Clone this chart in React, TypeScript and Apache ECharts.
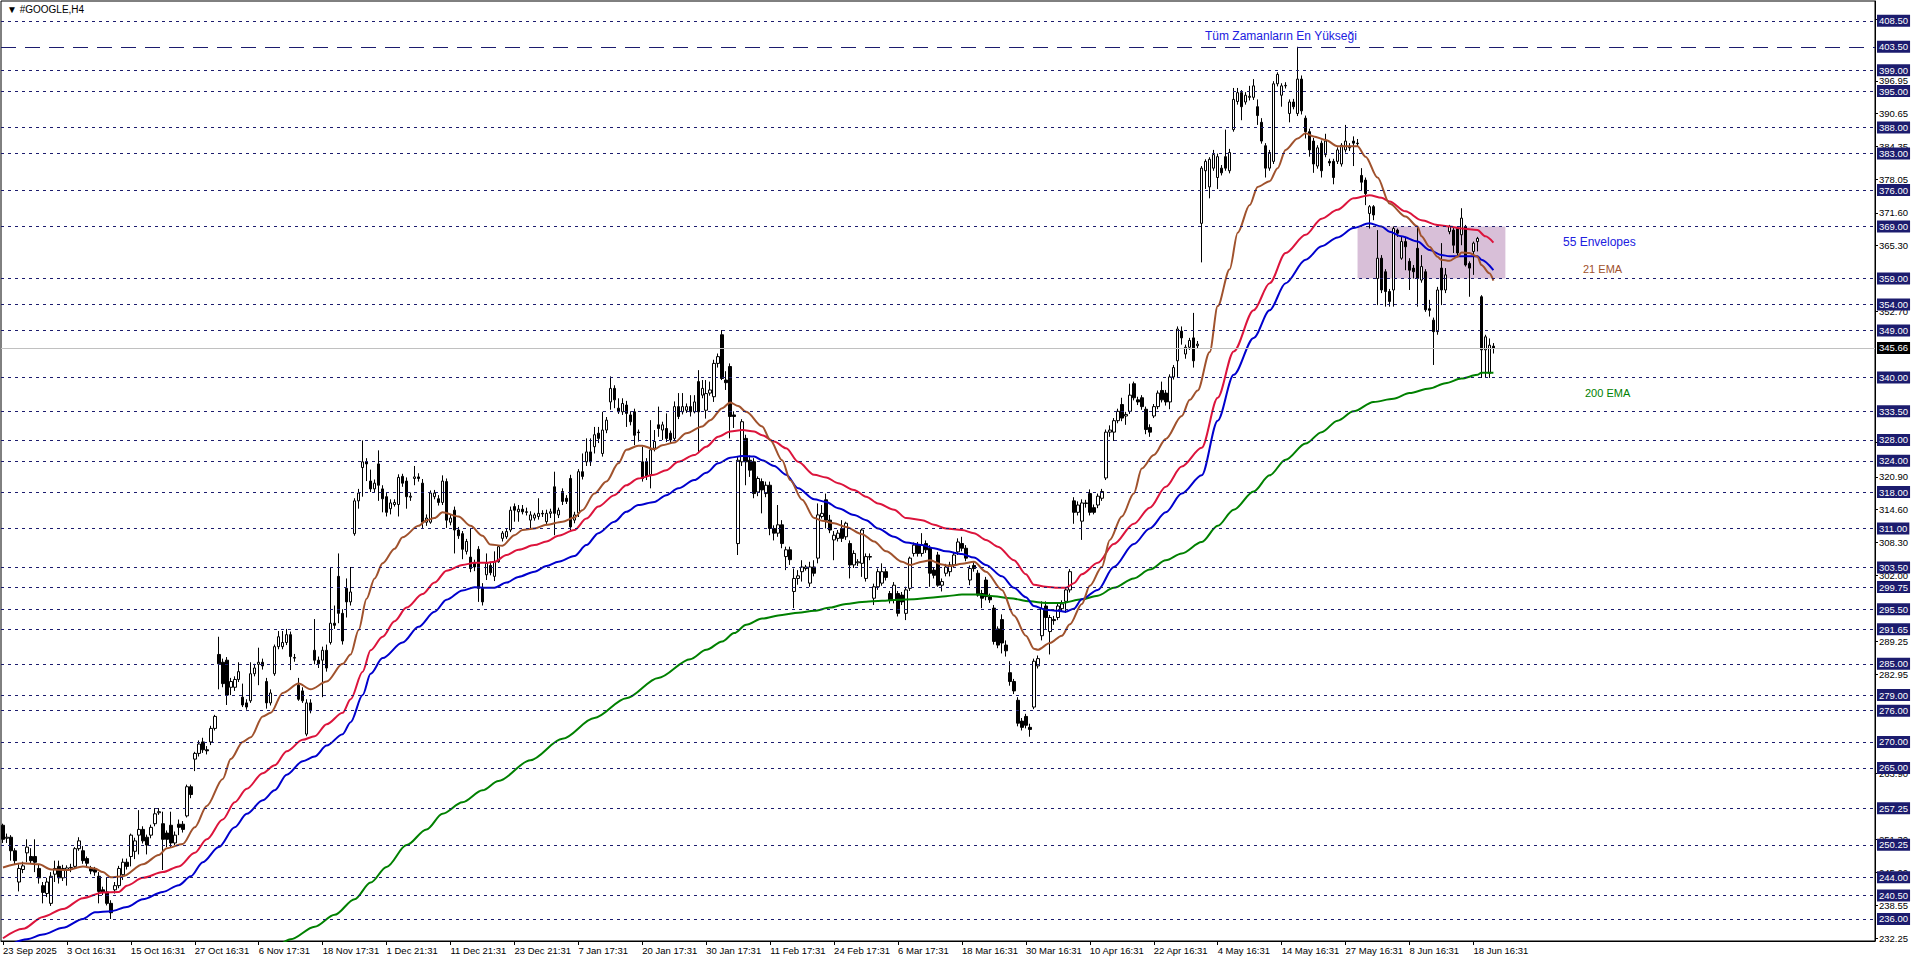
import React, { useEffect, useRef } from 'react';
import * as echarts from 'echarts';

const titleText = '▼ #GOOGLE,H4';
const tickLabels = ['23 Sep 2025', '3 Oct 16:31', '15 Oct 16:31', '27 Oct 16:31', '6 Nov 17:31', '18 Nov 17:31', '1 Dec 21:31', '11 Dec 21:31', '23 Dec 21:31', '7 Jan 17:31', '20 Jan 17:31', '30 Jan 17:31', '11 Feb 17:31', '24 Feb 17:31', '6 Mar 17:31', '18 Mar 16:31', '30 Mar 16:31', '10 Apr 16:31', '22 Apr 16:31', '4 May 16:31', '14 May 16:31', '27 May 16:31', '8 Jun 16:31', '18 Jun 16:31'];
const barsPerLabel = 16;
const totalSlots = 469;

// [open, close, low, high]
const candles: number[][] = [
  [254.0,251.3,250.6,254.3],[251.5,251.7,250.6,252.4],[251.7,249.1,247.2,252.1],[249.1,247.2,246.5,249.6],[243.1,245.7,241.3,246.5],
  [245.5,246.2,244.8,247.0],[248.7,249.8,246.9,251.3],[248.0,247.2,246.6,249.6],[248.0,246.9,245.0,251.3],[245.7,243.9,242.8,246.4],
  [242.4,241.1,239.0,243.1],[240.9,243.1,240.2,243.9],[239.0,244.2,238.5,245.0],[244.6,245.7,243.1,247.2],[246.1,243.9,242.8,247.2],
  [243.9,245.7,243.3,246.4],[245.4,245.8,242.4,246.3],[245.8,245.9,245.0,246.6],[246.1,249.5,245.7,249.8],[249.5,251.0,249.1,251.7],
  [249.1,247.2,246.6,250.0],[247.6,246.7,246.0,248.0],[245.7,245.2,244.6,246.2],[245.5,245.0,244.3,246.0],[244.2,241.3,239.0,245.0],
  [241.6,241.1,240.6,242.2],[241.2,239.0,238.6,243.9],[239.0,237.2,236.0,239.6],[241.6,242.4,240.9,243.1],[242.4,245.7,241.9,246.2],
  [244.5,246.9,243.5,247.6],[246.9,246.1,245.5,247.6],[248.0,252.1,246.1,252.4],[249.0,251.0,247.5,251.6],[252.1,253.2,248.4,256.9],
  [253.2,251.0,250.5,253.8],[251.7,250.2,248.4,252.2],[252.1,253.6,251.5,254.1],[254.3,256.2,253.8,257.3],[256.4,256.6,256.0,257.3],
  [254.3,251.3,245.4,256.6],[252.5,251.3,249.8,253.0],[254.0,250.6,249.8,256.6],[250.6,252.1,250.2,252.8],[254.2,253.6,252.1,255.1],
  [254.2,253.2,252.6,254.8],[255.8,261.4,255.5,261.8],[261.4,259.9,259.2,261.8],[266.7,267.8,264.4,268.1],[267.8,269.6,267.2,270.3],
  [270.0,268.5,267.9,270.8],[268.5,268.3,267.6,269.2],[270.0,272.6,269.4,273.1],[272.6,274.9,272.2,275.2],[286.8,285.0,280.1,290.2],
  [285.3,281.2,280.5,286.0],[285.7,279.0,277.1,286.3],[280.5,281.6,279.0,282.3],[280.5,282.0,279.8,282.6],[282.0,283.5,281.5,285.3],
  [278.6,277.1,276.7,281.2],[277.5,276.7,276.2,278.2],[277.9,283.1,277.5,285.3],[283.1,284.2,282.6,285.0],[284.9,285.3,280.9,288.1],
  [285.3,284.6,283.9,286.0],[281.6,277.5,276.4,282.3],[277.5,279.4,277.0,280.1],[283.1,288.3,282.7,288.7],[288.3,290.2,287.8,291.3],
  [288.3,289.1,287.8,291.3],[289.1,290.6,288.6,291.7],[290.6,286.4,283.8,291.2],[286.2,286.1,285.4,286.9],[280.9,278.2,277.9,282.3],
  [279.8,277.9,277.5,280.5],[271.5,277.5,271.1,278.2],[277.5,276.0,275.5,278.2],[287.6,285.7,284.9,293.6],[285.7,285.0,284.2,286.4],
  [285.7,287.6,278.6,288.3],[287.6,284.2,283.5,288.7],[289.1,292.8,288.7,303.6],[292.8,292.4,291.7,296.2],[301.8,294.7,292.8,306.2],
  [294.7,289.4,288.7,295.5],[299.5,296.9,293.9,301.4],[296.9,298.8,296.2,303.6],[310.0,316.3,309.6,316.8],[316.3,317.8,314.8,318.6],
  [322.7,323.8,317.1,327.9],[323.8,323.4,320.1,324.5],[320.1,318.6,318.0,322.3],[318.6,319.7,318.0,320.4],[323.4,319.3,316.3,326.0],
  [318.6,316.7,314.1,319.3],[317.1,314.1,313.3,317.8],[314.8,315.9,313.7,316.6],[315.6,316.0,315.2,316.6],[315.6,320.8,313.3,321.4],
  [321.0,319.7,319.0,321.5],[320.1,317.1,314.8,320.8],[317.0,317.2,316.3,317.9],[320.6,320.9,319.3,323.0],[320.9,320.6,320.0,321.6],
  [319.7,312.2,311.1,320.5],[312.2,313.0,311.5,313.7],[312.2,317.8,311.9,318.3],[317.1,317.8,316.6,318.4],[316.7,316.0,315.4,317.4],
  [316.0,320.1,315.5,321.2],[320.0,312.6,311.1,320.6],[312.2,313.0,311.6,313.7],[314.5,310.7,306.2,315.2],[310.7,309.6,309.0,311.3],
  [310.0,307.0,305.1,310.5],[306.6,308.5,306.0,309.0],[305.5,303.3,302.6,311.1],[304.4,303.6,302.8,305.0],[307.0,299.5,296.9,307.6],
  [299.5,296.9,296.2,300.5],[302.1,304.3,301.1,306.2],[303.9,302.5,302.0,304.6],[301.8,304.6,300.9,306.6],[304.6,307.5,304.4,307.8],
  [309.1,310.1,308.5,310.5],[309.4,310.4,309.0,311.0],[310.7,314.5,310.3,315.2],[315.2,314.5,312.3,315.8],[314.2,314.7,312.3,315.5],
  [314.7,314.2,313.7,315.5],[314.2,314.1,313.5,315.0],[312.6,313.6,311.0,314.3],[313.0,313.6,312.5,314.0],[313.3,313.9,312.7,316.8],
  [313.9,313.8,313.2,314.5],[312.3,313.9,311.6,314.6],[313.9,314.2,313.0,314.8],[319.0,313.9,309.7,321.9],[313.6,314.5,313.0,315.0],
  [318.1,316.2,315.5,318.7],[316.8,316.2,315.7,317.4],[320.6,311.3,310.5,321.3],[312.6,313.6,312.0,314.2],[314.0,321.9,313.2,322.4],
  [321.9,321.0,320.4,325.4],[323.8,325.7,323.0,328.3],[325.7,323.8,323.0,328.3],[326.7,329.0,325.4,330.5],[329.3,328.3,327.4,330.5],
  [325.4,329.9,324.8,333.4],[329.9,331.8,329.3,332.4],[335.3,337.9,333.8,340.2],[337.9,335.7,334.1,338.5],[334.1,333.4,333.0,336.0],
  [333.4,335.0,332.8,336.0],[334.7,333.1,330.5,335.5],[332.8,331.5,330.8,333.5],[333.4,328.9,327.0,334.0],[329.5,329.4,327.7,330.0],
  [323.8,320.6,320.0,326.7],[323.8,321.0,320.3,324.5],[321.3,326.1,318.7,331.8],[326.4,327.7,325.8,329.9],[330.9,330.2,328.6,334.4],
  [329.9,330.9,328.0,331.5],[330.2,328.3,327.6,333.1],[329.3,328.0,327.4,329.8],[328.3,334.4,327.8,335.4],[334.4,332.5,332.0,337.0],
  [333.4,334.4,332.9,337.0],[333.7,334.4,333.2,335.0],[334.4,333.4,332.5,336.6],[333.4,335.3,333.1,336.6],[339.2,333.4,325.7,341.4],
  [336.6,337.9,336.0,339.5],[333.7,336.9,332.1,339.5],[337.0,337.6,336.5,339.2],[336.3,342.7,335.3,343.4],[342.7,344.0,341.9,344.6],
  [348.2,339.8,339.5,349.1],[339.5,339.0,337.6,341.2],[342.1,332.5,328.3,342.7],[332.8,332.5,330.3,333.5],[308.1,324.1,305.9,324.8],
  [323.8,331.5,323.0,332.0],[328.3,323.8,319.3,329.0],[324.1,322.2,320.9,325.0],[323.8,317.7,316.8,324.5],[318.0,320.6,317.2,321.0],
  [320.0,318.4,313.9,320.6],[317.7,319.3,317.0,320.0],[319.3,311.0,309.7,320.0],[311.0,310.1,308.7,311.6],[310.1,311.7,309.4,315.5],
  [311.7,308.1,307.2,312.6],[305.6,306.9,303.0,307.5],[306.9,305.0,304.0,307.5],[298.9,301.4,295.7,303.3],[301.4,301.9,300.2,303.0],
  [302.7,303.6,300.8,304.9],[303.3,303.6,302.9,304.0],[300.5,303.6,299.8,304.6],[303.6,302.4,301.8,304.9],[305.3,313.6,304.3,315.8],
  [313.3,313.9,312.9,315.5],[316.5,312.6,311.0,317.7],[312.6,310.7,310.1,313.6],[308.8,309.7,304.9,310.5],[309.1,310.1,308.5,310.7],
  [311.0,309.1,308.4,312.6],[309.4,312.0,308.8,312.3],[308.1,304.0,301.4,308.7],[304.0,306.2,303.4,306.8],[304.4,304.6,303.8,305.1],
  [304.3,310.7,301.7,311.0],[301.4,305.6,300.8,306.2],[305.6,305.5,304.9,306.2],[297.6,299.8,296.3,300.4],[299.8,302.7,299.2,303.3],
  [300.5,302.7,300.0,304.3],[302.7,301.6,301.0,303.3],[298.5,297.2,296.6,299.0],[297.2,300.1,296.6,300.7],[298.5,294.7,294.1,299.0],
  [298.2,296.9,296.3,298.8],[294.7,299.2,293.4,299.8],[299.5,305.3,299.0,305.6],[306.2,307.8,305.6,308.3],[307.8,306.2,305.6,308.4],
  [306.2,307.8,305.6,310.1],[308.1,306.9,306.3,308.7],[307.2,302.4,299.8,307.8],[303.0,302.0,301.4,303.6],[305.9,300.1,299.8,306.5],
  [300.1,300.8,298.9,301.4],[302.4,303.6,301.8,304.2],[302.7,304.0,301.8,304.6],[304.0,305.9,303.4,306.5],[306.5,308.4,305.9,309.1],
  [308.1,307.2,306.6,309.4],[307.2,305.3,304.7,307.8],[301.1,303.3,300.1,303.9],[303.9,303.3,302.7,304.5],[302.4,298.2,297.9,303.0],
  [298.5,297.6,295.7,299.2],[301.1,297.9,297.2,301.7],[297.9,297.3,296.7,298.5],[295.7,289.3,288.7,296.3],[291.7,288.6,288.0,292.2],
  [293.5,289.0,287.0,294.5],[288.6,287.5,286.4,289.5],[283.3,281.6,280.8,285.5],[281.6,279.8,279.2,282.1],[278.0,273.6,273.0,278.6],
  [274.0,272.8,272.2,274.6],[274.9,273.2,272.6,275.4],[272.8,272.4,271.0,273.5],[276.7,285.5,276.3,286.0],[284.6,286.0,284.1,286.6],
  [290.4,295.6,289.5,297.0],[296.1,293.9,291.7,297.0],[291.2,293.9,286.8,294.4],[293.5,293.3,292.5,294.2],[293.9,296.1,293.4,296.6],
  [295.6,296.5,295.0,297.2],[297.0,299.2,294.8,299.7],[299.2,302.7,298.7,303.2],[316.3,314.1,311.9,317.0],[314.1,315.5,313.5,316.2],
  [312.4,315.9,308.8,316.6],[315.9,315.8,315.0,316.5],[317.7,314.1,313.5,318.5],[315.0,314.1,313.7,315.6],[315.5,317.2,314.9,317.7],
  [316.8,318.1,316.3,318.6],[320.7,329.5,320.3,330.0],[329.5,329.9,328.6,330.8],[329.5,331.7,327.8,332.2],[331.7,333.5,331.2,334.0],
  [334.8,332.2,331.6,336.1],[332.6,332.9,330.9,333.4],[333.5,336.6,333.0,338.8],[338.8,336.1,335.6,339.2],[335.7,335.3,334.7,336.3],
  [336.1,334.4,333.8,336.6],[333.9,330.0,329.1,334.4],[330.4,329.5,328.6,331.0],[332.6,334.4,332.2,334.9],[334.4,337.0,333.9,337.5],
  [337.5,335.7,335.2,339.2],[337.0,335.3,334.6,337.6],[335.3,340.1,333.9,340.6],[340.1,341.9,339.6,342.4],[343.2,349.3,340.1,349.8],
  [348.9,347.6,346.3,349.8],[344.5,345.8,343.6,346.3],[345.8,347.1,345.3,347.6],[347.6,343.2,341.9,352.4],[346.1,346.4,345.5,347.0],
  [369.6,380.2,362.1,380.6],[379.7,381.5,376.2,381.9],[376.6,381.9,374.4,382.3],[380.2,382.8,379.7,383.7],[378.4,382.4,376.2,383.0],
  [380.2,379.3,378.8,380.8],[382.4,380.2,379.7,387.6],[379.7,383.2,379.2,383.9],[387.6,393.4,387.2,395.6],[393.0,394.7,392.4,395.6],
  [394.7,392.0,389.4,395.2],[392.9,394.2,392.4,394.8],[393.8,394.0,393.2,396.0],[393.8,396.0,393.3,397.3],[392.0,390.3,388.5,393.4],
  [389.0,385.4,384.9,389.8],[384.5,380.2,378.4,385.0],[380.2,383.2,379.7,383.7],[381.5,396.4,381.0,396.9],[396.4,398.2,395.9,398.6],
  [394.2,396.0,392.0,396.5],[396.0,396.1,395.5,396.7],[390.7,392.9,389.0,393.4],[392.9,392.0,391.5,393.5],[390.7,397.3,390.2,403.5],
  [397.3,391.2,390.5,398.0],[389.8,387.2,385.9,390.3],[387.2,383.7,382.4,387.8],[385.4,381.0,379.3,386.0],[380.6,384.1,380.1,384.6],
  [385.0,379.7,378.4,385.5],[382.8,385.4,382.3,386.8],[381.5,381.2,380.6,382.0],[381.5,378.4,377.1,382.0],[381.5,383.7,381.0,384.2],
  [381.0,384.6,380.5,385.0],[383.7,385.4,383.2,388.5],[384.1,384.2,383.5,385.0],[385.4,385.0,380.6,386.3],[385.0,384.9,384.3,385.8],
  [378.8,377.5,375.8,380.2],[377.9,375.3,373.1,378.4],[371.5,372.8,368.6,373.1],[372.8,371.2,370.2,373.1],[359.0,362.9,353.9,368.3],
  [362.9,356.8,356.2,363.5],[360.3,356.5,353.6,360.8],[356.5,354.6,353.6,357.0],[356.8,368.6,353.6,369.0],[368.3,367.7,367.0,368.6],
  [362.9,366.1,362.6,367.0],[366.1,365.1,360.6,367.0],[362.3,360.6,356.8,362.9],[361.0,360.3,359.0,361.6],[364.8,359.0,353.6,369.0],
  [358.7,361.3,358.2,363.5],[360.3,353.0,352.6,360.8],[353.2,352.9,351.7,354.9],[351.0,348.8,342.4,351.5],[348.8,356.8,348.2,357.4],
  [361.0,356.8,353.9,365.8],[356.8,359.7,356.2,361.0],[368.0,369.0,367.5,369.3],[368.3,365.4,363.9,368.7],[368.6,363.9,363.5,369.0],
  [367.4,370.6,365.4,372.5],[369.0,361.6,361.3,369.3],[361.9,361.0,355.5,362.3],[364.2,365.8,359.7,366.1],[366.1,366.7,364.2,367.0],
  [355.5,345.3,339.9,355.8],[345.3,347.8,339.9,348.2],[340.8,346.2,339.9,347.5],[346.0,345.66,344.6,346.6],
];

// [bar index, value]
const ema21 = [[0,245.9],[5,246.7],[9,246.5],[12,245.5],[16,245.4],[20,246.1],[23,245.7],[25,245.0],[27,244.0],[30,244.2],[35,246.5],[39,248.3],[41,249.6],[45,250.4],[48,253.6],[51,257.7],[55,262.9],[57,266.7],[60,270.0],[62,270.9],[65,274.9],[67,275.6],[70,279.4],[74,281.2],[77,280.1],[81,281.6],[85,285.0],[87,286.8],[89,291.5],[91,297.5],[93,301.4],[95,304.3],[98,307.1],[100,309.3],[104,311.5],[106,312.6],[108,313.0],[110,314.1],[114,313.3],[117,311.5],[120,309.6],[122,307.9],[125,307.7],[128,309.7],[130,310.7],[133,311.0],[136,311.7],[140,312.3],[143,313.1],[145,314.5],[148,317.7],[151,320.0],[154,323.5],[156,326.1],[159,326.9],[160,326.9],[163,326.2],[165,327.0],[168,327.5],[171,329.3],[175,330.6],[177,331.8],[180,334.1],[182,335.2],[184,334.5],[186,333.4],[190,330.6],[192,328.0],[195,324.1],[197,320.3],[200,316.5],[203,313.0],[205,312.5],[208,312.0],[211,311.3],[215,309.9],[218,308.5],[221,306.6],[225,304.6],[227,304.0],[230,304.6],[232,304.9],[235,304.1],[237,303.8],[240,304.2],[243,304.6],[246,302.7],[250,299.2],[253,294.3],[256,290.4],[258,287.9],[259,287.7],[262,289.0],[265,290.4],[267,292.6],[270,296.5],[272,300.0],[275,303.6],[277,308.8],[280,313.3],[283,317.7],[285,322.5],[288,325.1],[291,328.2],[295,332.6],[297,335.7],[299,337.5],[302,344.9],[304,353.7],[307,360.8],[309,367.8],[312,373.1],[314,376.6],[317,377.7],[319,380.2],[321,383.7],[324,385.9],[326,386.9],[328,386.3],[331,385.6],[334,384.4],[339,384.4],[341,382.4],[344,378.4],[347,373.4],[351,370.9],[354,369.0],[355,367.1],[357,365.1],[359,363.2],[360,362.6],[362,362.4],[364,363.2],[365,364.0],[367,363.9],[369,363.2],[370,361.6],[372,360.0],[373,358.6]];

const envUpper = [[0,232.3],[5,234.1],[10,236.4],[15,237.9],[20,240.0],[25,241.1],[29,241.2],[31,242.4],[35,243.9],[40,245.0],[44,246.1],[48,248.7],[51,251.3],[55,255.1],[58,258.4],[61,261.0],[65,264.0],[68,265.5],[71,268.2],[75,270.4],[78,271.1],[81,273.4],[85,275.6],[87,278.2],[90,283.5],[92,287.6],[95,290.2],[98,293.2],[101,295.8],[105,298.4],[108,300.6],[111,302.9],[115,304.0],[118,304.4],[121,304.4],[123,304.6],[126,305.9],[129,306.9],[133,307.8],[136,308.5],[139,309.6],[143,310.7],[146,312.9],[149,315.2],[153,317.4],[156,319.3],[159,320.6],[163,321.3],[166,322.2],[169,323.8],[173,325.1],[176,326.7],[179,328.6],[182,329.6],[185,329.9],[188,329.6],[190,328.9],[193,327.7],[196,326.4],[199,323.8],[203,321.3],[206,320.8],[209,319.7],[213,318.4],[216,317.1],[219,315.8],[223,314.6],[226,313.0],[230,312.6],[233,311.7],[236,311.0],[240,310.7],[243,310.1],[246,308.8],[249,307.5],[253,304.9],[256,302.2],[258,300.2],[261,299.8],[264,299.6],[266,299.6],[268,300.5],[270,302.2],[274,304.4],[278,308.0],[283,311.9],[287,315.0],[291,319.0],[295,322.9],[300,326.5],[304,336.1],[308,345.0],[313,352.9],[317,358.1],[321,363.9],[326,367.4],[330,370.5],[334,372.2],[338,374.4],[342,375.0],[345,374.5],[347,373.8],[351,371.9],[355,370.2],[359,369.3],[362,369.0],[365,368.6],[369,368.3],[371,367.1],[373,365.9]];

const envLower = [[0,230.3],[6,232.1],[10,233.0],[15,234.3],[20,236.0],[23,237.3],[27,237.5],[31,238.3],[35,239.8],[40,241.2],[44,242.5],[47,244.2],[50,246.9],[54,249.8],[58,253.6],[61,256.2],[65,258.8],[68,260.7],[71,263.7],[75,266.3],[78,267.2],[81,269.3],[85,271.5],[87,273.8],[90,279.0],[92,283.1],[95,286.1],[100,289.1],[104,292.1],[108,295.0],[111,297.3],[115,299.1],[118,299.7],[121,299.6],[123,299.6],[126,300.6],[129,301.7],[133,302.7],[136,303.8],[139,304.6],[143,305.7],[146,307.8],[149,310.1],[153,312.3],[156,314.2],[159,315.5],[163,316.1],[166,317.4],[169,318.7],[173,320.3],[176,321.7],[179,323.5],[182,324.6],[185,324.9],[188,324.8],[190,324.1],[193,323.0],[196,321.3],[199,318.7],[203,316.6],[206,316.1],[209,314.9],[213,313.6],[216,312.6],[219,311.0],[223,309.4],[226,308.3],[230,307.8],[233,307.2],[236,306.6],[240,306.1],[243,305.4],[246,304.0],[250,301.8],[253,299.6],[256,297.8],[258,296.1],[261,295.4],[264,295.2],[266,295.0],[268,295.6],[270,297.4],[274,299.2],[278,303.6],[283,308.0],[287,311.0],[291,314.1],[295,317.7],[300,321.2],[304,331.7],[308,340.5],[313,347.6],[317,352.9],[321,358.1],[326,362.6],[330,365.2],[334,366.9],[338,368.7],[342,369.6],[345,369.0],[347,368.0],[350,367.1],[354,366.1],[357,364.5],[360,363.5],[362,363.3],[369,363.3],[370,362.6],[373,360.6]];

const ema200 = [[68,230.0],[72,232.1],[78,234.5],[83,236.8],[88,239.8],[92,243.0],[96,246.0],[101,250.2],[106,253.2],[110,256.2],[115,258.4],[120,260.7],[124,262.5],[132,266.5],[140,270.6],[148,274.6],[156,278.4],[164,282.3],[172,285.9],[176,287.7],[180,289.3],[183,290.9],[186,292.5],[190,293.7],[195,294.4],[199,294.8],[203,295.2],[207,295.8],[211,296.5],[215,296.9],[220,297.1],[224,297.3],[228,297.4],[232,297.7],[236,298.0],[240,298.3],[244,298.3],[248,298.0],[252,297.6],[257,297.0],[261,296.7],[265,296.7],[270,297.4],[274,298.1],[278,299.6],[283,301.4],[287,303.1],[291,304.9],[295,306.2],[300,308.4],[304,311.5],[308,314.6],[313,318.1],[317,321.2],[321,324.2],[326,327.3],[330,329.5],[334,331.7],[338,333.5],[343,335.3],[348,335.9],[352,337.0],[357,337.9],[361,338.9],[365,339.8],[369,340.5],[370,340.9],[373,340.9]];

const levelLines = [408.5, 399, 395, 388, 383, 376, 369, 359, 354, 349, 340, 333.5, 328, 324, 318, 311, 303.5, 299.75, 295.5, 291.65, 285, 279, 276, 270, 265, 257.25, 250.25, 244, 240.5, 236];
const athLevel = 403.5;
const bidPrice = 345.66;
const axisPriceLabels = [232.25, 238.55, 245.0, 251.3, 263.9, 282.95, 289.25, 302.0, 308.3, 314.6, 320.9, 327.55, 352.7, 365.3, 371.6, 378.05, 384.35, 390.65, 396.95, 408.7];
const zoneBars = [339, 376];
const zonePrices = [359, 369];

const NAVY = '#1c1c6e';
const FONT = '"Liberation Sans", Arial, sans-serif';

export default function App() {
  const ref = useRef<HTMLDivElement>(null);
  useEffect(() => {
    document.body.style.margin = '0';
    const chart = echarts.init(ref.current as HTMLDivElement, null, { renderer: 'svg' });
    const slots = Array.from({ length: totalSlots }, (_, i) => String(i));
    const isLabelIdx = (i: number) => i % barsPerLabel === 0 && i / barsPerLabel < tickLabels.length;

    const markData: any[] = levelLines.map((v) => ({ yAxis: v }));
    markData.push({ yAxis: athLevel, lineStyle: { type: [15, 9], color: NAVY, width: 1 } });
    markData.push({ yAxis: bidPrice, lineStyle: { type: 'solid', color: '#c0c0c0', width: 1 }, label: { backgroundColor: '#000000' } });

    const lineSeries = (name: string, data: number[][], color: string) => ({
      name, type: 'line', data, showSymbol: false, symbol: 'none', smooth: 0.3, smoothMonotone: 'x',
      lineStyle: { color, width: 2 }, z: 3, silent: true, animation: false, clip: true,
    });

    const option: any = {
      animation: false,
      backgroundColor: '#ffffff',
      grid: { left: 1, right: 41, top: 1, bottom: 22, show: true, borderColor: '#000', borderWidth: 1, backgroundColor: '#fff', containLabel: false, outerBoundsMode: 'none' },
      xAxis: {
        type: 'category', data: slots, boundaryGap: true,
        axisLine: { show: true, lineStyle: { color: '#000', width: 1 } },
        axisTick: { show: true, alignWithLabel: true, interval: (i: number) => isLabelIdx(i), length: 4, lineStyle: { color: '#000' } },
        axisLabel: {
          interval: (i: number) => isLabelIdx(i),
          formatter: (_v: string, i: number) => (isLabelIdx(i) ? tickLabels[i / barsPerLabel] : ''),
          align: 'left', fontSize: 9.5, fontFamily: FONT, color: '#000', margin: 4,
        },
        splitLine: { show: false },
      },
      yAxis: {
        type: 'value', position: 'right', min: 231.77, max: 412.3, scale: true,
        axisLine: { show: true, lineStyle: { color: '#000', width: 1 } },
        axisTick: { show: true, length: 3, customValues: axisPriceLabels, lineStyle: { color: '#000' } },
        axisLabel: { customValues: axisPriceLabels, formatter: (v: number) => v.toFixed(2), fontSize: 9.5, fontFamily: FONT, color: '#000', margin: 4, align: 'left' },
        splitLine: { show: false },
      },
      series: [
        {
          name: 'levels', type: 'line', data: [], z: 1, silent: true, animation: false,
          markArea: {
            silent: true,
            itemStyle: { color: '#d8bfd8', opacity: 1 },
            data: [[{ xAxis: zoneBars[0], yAxis: zonePrices[1] }, { xAxis: zoneBars[1], yAxis: zonePrices[0] }]],
          },
          markLine: {
            silent: true, symbol: ['none', 'none'], animation: false,
            lineStyle: { type: [3, 4], color: NAVY, width: 1 },
            label: {
              show: true, position: 'end', distance: 2,
              formatter: (p: any) => Number(p.value).toFixed(2),
              backgroundColor: NAVY, color: '#ffffff', fontSize: 9.5, fontFamily: FONT,
              padding: [1, 2, 1, 2],
            },
            emphasis: { disabled: true },
            data: markData,
          },
        },
        {
          name: 'GOOGLE', type: 'candlestick', data: candles, barWidth: 3, z: 2, silent: true,
          itemStyle: { color: '#ffffff', color0: '#000000', borderColor: '#000000', borderColor0: '#000000', borderWidth: 1 },
        },
        lineSeries('200 EMA', ema200, '#008000'),
        lineSeries('Envelope lower', envLower, '#0000cd'),
        lineSeries('Envelope upper', envUpper, '#dc143c'),
        lineSeries('21 EMA', ema21, '#a0522d'),
      ],
      graphic: [
        { type: 'text', x: 7, y: 9, silent: true, style: { text: titleText, fill: '#000', fontSize: 10, fontFamily: FONT, verticalAlign: 'middle' } },
        { type: 'text', x: 1205, y: 36, silent: true, style: { text: 'Tüm Zamanların En Yükseği', fill: '#2020e0', fontSize: 12, fontFamily: FONT, verticalAlign: 'middle' } },
        { type: 'text', x: 1563, y: 242, silent: true, style: { text: '55 Envelopes', fill: '#2020e0', fontSize: 12, fontFamily: FONT, verticalAlign: 'middle' } },
        { type: 'text', x: 1583, y: 269, silent: true, style: { text: '21 EMA', fill: '#a0522d', fontSize: 11, fontFamily: FONT, verticalAlign: 'middle' } },
        { type: 'text', x: 1585, y: 393, silent: true, style: { text: '200 EMA', fill: '#008000', fontSize: 11, fontFamily: FONT, verticalAlign: 'middle' } },
      ],
    };
    chart.setOption(option);
    return () => chart.dispose();
  }, []);
  return <div ref={ref} style={{ width: 1916, height: 963 }} />;
}
